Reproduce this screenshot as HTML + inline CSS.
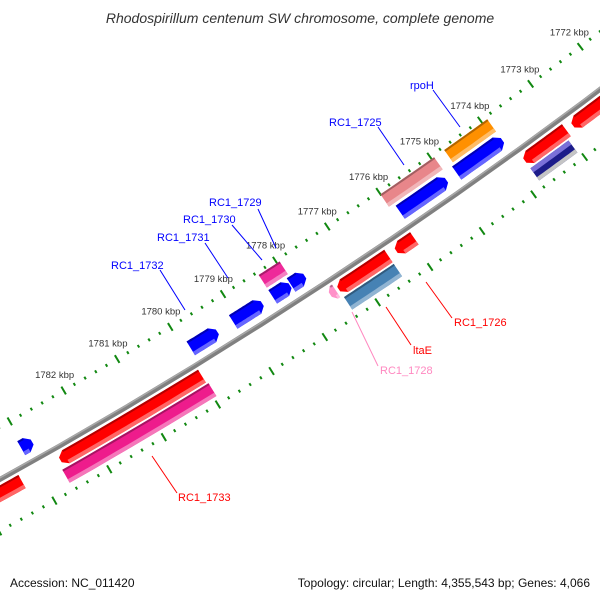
<!DOCTYPE html>
<html><head><meta charset="utf-8">
<style>
html,body{margin:0;padding:0;background:#fff;}
svg{display:block;font-family:"Liberation Sans","DejaVu Sans",sans-serif;}
</style></head>
<body>
<svg id="map" width="600" height="600" viewBox="0 0 600 600" xmlns="http://www.w3.org/2000/svg">
<rect width="600" height="600" fill="#fff"/>
<text x="300" y="23" text-anchor="middle" font-size="14" font-style="italic" fill="#333">Rhodospirillum centenum SW chromosome, complete genome</text>
<g id="ticks"></g>
<g id="backbone"></g>
<g id="features"></g>
<g id="labels" font-size="11">
  <line x1="433" y1="90" x2="460" y2="127" stroke="#00f" stroke-width="1"/>
  <text x="410" y="89" fill="#00f">rpoH</text>
  <line x1="378" y1="127" x2="404" y2="165" stroke="#00f"/>
  <text x="329" y="126" fill="#00f">RC1_1725</text>
  <line x1="258" y1="209" x2="276" y2="248" stroke="#00f"/>
  <text x="209" y="206" fill="#00f">RC1_1729</text>
  <line x1="232" y1="225" x2="262" y2="260" stroke="#00f"/>
  <text x="183" y="223" fill="#00f">RC1_1730</text>
  <line x1="205" y1="243" x2="228" y2="278" stroke="#00f"/>
  <text x="157" y="241" fill="#00f">RC1_1731</text>
  <line x1="160" y1="270" x2="185" y2="310" stroke="#00f"/>
  <text x="111" y="269" fill="#00f">RC1_1732</text>
  <line x1="426" y1="282" x2="452" y2="318" stroke="#f00"/>
  <text x="454" y="326" fill="#f00">RC1_1726</text>
  <line x1="386" y1="307" x2="411" y2="345" stroke="#f00"/>
  <text x="413" y="354" fill="#f00">ltaE</text>
  <line x1="352" y1="312" x2="378" y2="366" stroke="#ff88c0"/>
  <text x="380" y="374" fill="#ff88c0">RC1_1728</text>
  <line x1="152" y1="456" x2="177" y2="493" stroke="#f00"/>
  <text x="178" y="501" fill="#f00">RC1_1733</text>
</g>
<text x="10" y="587" font-size="12" fill="#111">Accession: NC_011420</text>
<text x="590" y="587" font-size="12" fill="#111" text-anchor="end">Topology: circular; Length: 4,355,543 bp; Genes: 4,066</text>
</svg>
<script>
// chart data (kbp positions)
const tickLabelKbp = [1772,1773,1774,1775,1776,1777,1778,1779,1780,1781,1782];
const featStart = [1775.0,1773.9,1777.74,1778.02,1778.55,1779.4,1782.85,1774.95,1773.9,1777.95,1776.45,1775.95,1779.98,1772.98,1771.9,1783.3,1777.45,1779.95,1776.45,1773.05];
const featEnd   = [1775.9,1774.8,1778.0,1778.35,1779.1,1779.9,1783.05,1776.0,1774.75,1778.35,1777.4,1776.3,1782.6,1773.8,1772.85,1784.2,1777.56,1782.65,1777.4,1773.8];
const featLane  = [0,0,0,0,0,0,0,1,1,1,2,2,2,2,2,2,2,3,3,3];
const featDir   = [1,1,1,1,1,1,1,0,0,0,-1,-1,-1,-1,-1,-1,-1,0,0,0];
const featColor = ["#0000ff","#0000ff","#0000ff","#0000ff","#0000ff","#0000ff","#0000ff","#e8868a","#ff9000","#ee2a9a","#ff0000","#ff0000","#ff0000","#ff0000","#ff0000","#ff0000","#ff90c8","#ee1c8c","#4682b4","#1c1c8a"];
const featName  = ["rc1-1726-blue","rpoH-pair","rc1-1730","rc1-1729-blue","rc1-1731","rc1-1732","small-blue","rc1-1725","rpoH","rc1-1729","rc1-1726","red-small","red-long","red-top","red-top-edge","red-bottom-edge","rc1-1728","rc1-1733","ltaE","navy-feature"];

// geometry
const CX=-2469, CY=-3975, R=5093, K0=1776, PHI0=55.65, DPK=0.705;
const laneIn=[-25,-43,5,22], laneOut=[-9,-28,20,37];
const NS="http://www.w3.org/2000/svg";
function ang(k){return (PHI0+(k-K0)*DPK)*Math.PI/180;}
function pt(k,off){const a=ang(k);return [CX+(R+off)*Math.cos(a), CY+(R+off)*Math.sin(a)];}
function P(p){return p[0].toFixed(1)+","+p[1].toFixed(1);}
function arcPts(k1,k2,off){const n=12,r=[];for(let i=0;i<=n;i++)r.push(pt(k1+(k2-k1)*i/n,off));return r;}
function mix(hex,t,w){const n=parseInt(hex.slice(1),16);let c=[(n>>16)&255,(n>>8)&255,n&255];c=c.map(v=>Math.round(v+(w-v)*t));return "rgb("+c.join(",")+")";}

// backbone
const bb=document.getElementById('backbone');
{
 const d=arcPts(1770,1785,0);
 const pl=document.createElementNS(NS,'polyline');
 pl.setAttribute('points',d.map(P).join(' '));
 pl.setAttribute('fill','none');pl.setAttribute('stroke','#808080');pl.setAttribute('stroke-width','5');
 
 
 bb.appendChild(pl);
 const pl2=document.createElementNS(NS,'polyline');
 pl2.setAttribute('points',arcPts(1770,1785,-1.5).map(P).join(' '));
 pl2.setAttribute('fill','none');pl2.setAttribute('stroke','#a8a8a8');pl2.setAttribute('stroke-width','1.5');
 
 
 bb.appendChild(pl2);
}

// ticks
const tg=document.getElementById('ticks');
const rings=[-46,45];
for(let i=0;i<=75;i++){
 const k=1770.6+i*0.2;
 const major=Math.abs(k-Math.round(k))<0.01;
 for(const ro of rings){
  const h=major?4.5:1.5;
  const a=pt(k,ro-h), b=pt(k,ro+h);
  const ln=document.createElementNS(NS,'line');
  ln.setAttribute('x1',a[0]);ln.setAttribute('y1',a[1]);ln.setAttribute('x2',b[0]);ln.setAttribute('y2',b[1]);
  ln.setAttribute('stroke','#118811');ln.setAttribute('stroke-width','2');
  
  
  tg.appendChild(ln);
 }
}
tickLabelKbp.forEach(k=>{
 const p=pt(k,-64);
 const t=document.createElementNS(NS,'text');
 t.setAttribute('x',p[0]);t.setAttribute('y',p[1]+3);
 t.setAttribute('text-anchor','middle');t.setAttribute('font-size','9.5');t.setAttribute('fill','#333');
 t.textContent=k+' kbp';
 
 
 tg.appendChild(t);
});

// features
const fg=document.getElementById('features');
const HEAD=0.1;
for(let i=0;i<featStart.length;i++){
 const k1=featStart[i],k2=featEnd[i],r1=laneIn[featLane[i]],r2=laneOut[featLane[i]],dir=featDir[i];
 const mid=(r1+r2)/2, q=(r2-r1)*0.18;
 let b1=k1,b2=k2;
 const hl=Math.min(HEAD,(k2-k1)*0.6);
 if(dir===1)b1=k1+hl; if(dir===-1)b2=k2-hl;
 let pts=[];
 pts=pts.concat(arcPts(b1,b2,r1));
 if(dir===-1){pts.push(pt(k2,mid-q));pts.push(pt(k2,mid+q));}
 pts=pts.concat(arcPts(b1,b2,r2).reverse());
 if(dir===1){pts.push(pt(k1,mid+q));pts.push(pt(k1,mid-q));}
 const g=document.createElementNS(NS,'g');
 
 
 const poly=document.createElementNS(NS,'polygon');
 poly.setAttribute('points',pts.map(P).join(' '));
 poly.setAttribute('fill',featColor[i]);
 
 
 g.appendChild(poly);
 const lt=document.createElementNS(NS,'polygon');
 lt.setAttribute('points',arcPts(b1,b2,r2-4).concat(arcPts(b1,b2,r2).reverse()).map(P).join(' '));
 lt.setAttribute('fill',featName[i]==='navy-feature'?'#c4c4c4':mix(featColor[i],0.4,255));
 
 
 g.appendChild(lt);
 const dk=document.createElementNS(NS,'polygon');
 const dkw=featName[i]==='navy-feature'?5:2;
 dk.setAttribute('points',arcPts(b1,b2,r1).concat(arcPts(b1,b2,r1+dkw).reverse()).map(P).join(' '));
 dk.setAttribute('fill',featName[i]==='navy-feature'?'#7a70d8':mix(featColor[i],0.3,0));
 
 
 g.appendChild(dk);
 fg.appendChild(g);
}
</script>
</body></html>
